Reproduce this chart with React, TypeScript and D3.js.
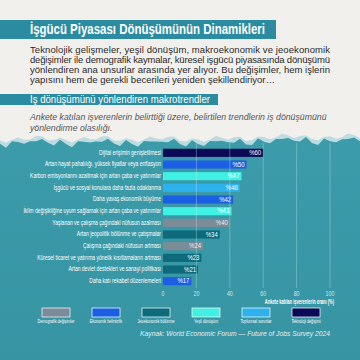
import React from "react";
import * as d3 from "d3";

const title = "İşgücü Piyasası Dönüşümünün Dinamikleri";
const paragraph = [
  "Teknolojik gelişmeler, yeşil dönüşüm, makroekonomik ve jeoekonomik",
  "değişimler ile demografik kaymalar, küresel işgücü piyasasında dönüşümü",
  "yönlendiren ana unsurlar arasında yer alıyor. Bu değişimler, hem işlerin",
  "yapısını hem de gerekli becerileri yeniden şekillendiriyor…",
];
const sectionTitle = "İş dönüşümünü yönlendiren makrotrendler";
const subtitle = [
  "Ankete katılan işverenlerin belirttiği üzere, belirtilen trendlerin iş dönüşümünü",
  "yönlendirme olasılığı.",
];
const trends = [
  "Dijital erişimin genişletilmesi",
  "Artan hayat pahalılığı, yüksek fiyatlar veya enflasyon",
  "Karbon emisyonlarını azaltmak için artan çaba ve yatırımlar",
  "İşgücü ve sosyal konulara daha fazla odaklanma",
  "Daha yavaş ekonomik büyüme",
  "İklim değişikliğine uyum sağlamak için artan çaba ve yatırımlar",
  "Yaşlanan ve çalışma çağındaki nüfusun azalması",
  "Artan jeopolitik bölünme ve çatışmalar",
  "Çalışma çağındaki nüfusun artması",
  "Küresel ticaret ve yatırıma yönelik kısıtlamaların artması",
  "Artan devlet destekleri ve sanayi politikası",
  "Daha katı rekabet düzenlemeleri",
];
const values = [60, 50, 47, 46, 42, 41, 40, 34, 24, 23, 21, 17];
const trendGroups = [
  "Teknoloji değişimi",
  "Ekonomik belirsizlik",
  "Yeşil dönüşüm",
  "Toplumsal sorunlar",
  "Ekonomik belirsizlik",
  "Yeşil dönüşüm",
  "Demografik değişimler",
  "Jeoekonomik bölünme",
  "Demografik değişimler",
  "Jeoekonomik bölünme",
  "Jeoekonomik bölünme",
  "Ekonomik belirsizlik",
];
const groups = [
  "Demografik değişimler",
  "Ekonomik belirsizlik",
  "Jeoekonomik bölünme",
  "Yeşil dönüşüm",
  "Toplumsal sorunlar",
  "Teknoloji değişimi",
];
const groupColors = ["#7b8b98", "#1b5fe4", "#0c6a7b", "#40f0e2", "#2db2ee", "#0b0a57"];
const xTicks = [0, 20, 40, 60, 80, 100];
const axisTitle = "Ankete katılan işverenlerin oranı (%)";
const source = "Kaynak: World Economic Forum — Future of Jobs Survey 2024";

const NARROW = "'Liberation Sans Narrow', 'Liberation Sans', Arial, sans-serif";
const SANS = "'Liberation Sans', Arial, sans-serif";

function Cond({ x, y, sx, anchor, size, fill, weight, children, italic }: any) {
  return (
    <text
      transform={`translate(${x},${y}) scale(${sx},1)`}
      textAnchor={anchor || "start"}
      fontFamily={NARROW}
      fontSize={size}
      fill={fill}
      fontWeight={weight || "normal"}
      fontStyle={italic ? "italic" : "normal"}
      dominantBaseline="middle"
    >
      {children}
    </text>
  );
}

export default function App() {
  const W = 360, H = 360;
  const x = d3.scaleLinear().domain([0, 100]).range([163, 330]);
  const y = d3.scaleBand<string>().domain(trends).range([147, 287]).paddingInner(0.3).paddingOuter(0.15);
  const color = d3.scaleOrdinal<string, string>().domain(groups).range(groupColors);
  const legendX = d3.scalePoint<string>().domain(groups).range([56, 306]);

  // torn paper edge (decoration)
  const edgeXs = d3.range(0, 361, 6);
  const edgePts: [number, number][] = edgeXs.map((px, i) => [
    px,
    139 + 2.2 * Math.sin(i * 1.7) + 1.5 * Math.sin(i * 0.6 + 1) + (px > 250 ? -2 : 0),
  ]);
  const edgeLine = d3.line().curve(d3.curveLinear);
  const paperPath = `M0,0 L360,0 L360,${edgePts[edgePts.length - 1][1]} ` +
    edgeLine(edgePts.slice().reverse())!.replace(/^M/, "L") + " Z";
  const foamPts: [number, number][] = edgePts.map(([px, py], i) => [px, py + 3.5 + 2 * Math.sin(i * 2.3)]);
  const foamPath = `M0,0 L360,0 L360,${foamPts[foamPts.length - 1][1]} ` +
    edgeLine(foamPts.slice().reverse())!.replace(/^M/, "L") + " Z";

  return (
    <svg width={W} height={H} style={{ position: "absolute", left: 0, top: 0 }}>
      <defs>
        <linearGradient id="sea" x1="0" y1="0" x2="0" y2="1">
          <stop offset="0" stopColor="#49aab6" />
          <stop offset="0.25" stopColor="#3d9dab" />
          <stop offset="1" stopColor="#3694a3" />
        </linearGradient>
      </defs>
      <rect x={0} y={0} width={W} height={H} fill="url(#sea)" />
      <path d={foamPath} fill="#d4e8ec" opacity={0.85} />
      <path d={paperPath} fill="#f1f0ed" />

      {/* title */}
      <rect x={0} y={20} width={276} height={19} fill="#2b8ca1" />
      <text x={30} y={30} fontFamily={NARROW} fontWeight="bold" fontSize={14} fill="#fff"
        dominantBaseline="middle" textLength={235} lengthAdjust="spacingAndGlyphs">{title}</text>

      {paragraph.map((l, i) => (
        <text key={i} x={30} y={50 + i * 10} fontFamily={SANS} fontSize={9.5} fill="#2a2a2a"
          dominantBaseline="middle" textLength={i < 3 ? 300 : undefined} lengthAdjust="spacing">{l}</text>
      ))}

      <rect x={0} y={94} width={218} height={11} fill="#2b8ca1" />
      <text x={30} y={100} fontFamily={NARROW} fontSize={11} fill="#fff" dominantBaseline="middle"
        textLength={180} lengthAdjust="spacingAndGlyphs">{sectionTitle}</text>

      {subtitle.map((l, i) => (
        <Cond key={i} x={30} y={117 + i * 11} sx={0.91} size={9.6} fill="#555" italic>{l}</Cond>
      ))}

      {/* bars */}
      {trends.map((t, i) => (
        <g key={t}>
          <rect x={x(0)} y={y(t)!} width={x(values[i]) - x(0)} height={y.bandwidth()} fill={color(trendGroups[i])} />
          <Cond x={161} y={y(t)! + y.bandwidth() / 2} sx={0.665} anchor="end" size={7.5} fill="#fff">{t}</Cond>
        </g>
      ))}

      {/* grid (drawn over bars, faint) */}
      {xTicks.map((t) => (
        <g key={t}>
          {t > 0 && <line x1={x(t)} x2={x(t)} y1={143} y2={288} stroke="#dcebef" strokeOpacity={0.4} strokeWidth={0.8} />}
          <Cond x={x(t)} y={294} sx={0.75} anchor="middle" size={7} fill="#d6e6ea">{t}</Cond>
        </g>
      ))}

      {trends.map((t, i) => (
        <Cond key={t} x={x(values[i]) - 2} y={y(t)! + y.bandwidth() / 2} sx={0.75} anchor="end" size={8}
          fill={trendGroups[i] === "Demografik değişimler" ? "#e8eef0" : "#fff"}>{"%" + values[i]}</Cond>
      ))}

      <Cond x={334} y={302} sx={0.62} anchor="end" size={6.5} fill="#fff" weight="bold">{axisTitle}</Cond>

      {/* legend */}
      {groups.map((g) => (
        <g key={g}>
          <rect x={legendX(g)! - 14} y={308} width={28} height={9} fill={color(g)} stroke="#e6f2f4" strokeWidth={0.8} />
          <Cond x={legendX(g)!} y={321.5} sx={0.62} anchor="middle" size={6} fill="#fff">{g}</Cond>
        </g>
      ))}

      <Cond x={330} y={334} sx={0.9} anchor="end" size={7.5} fill="#e6f0f2" italic>{source}</Cond>
    </svg>
  );
}
